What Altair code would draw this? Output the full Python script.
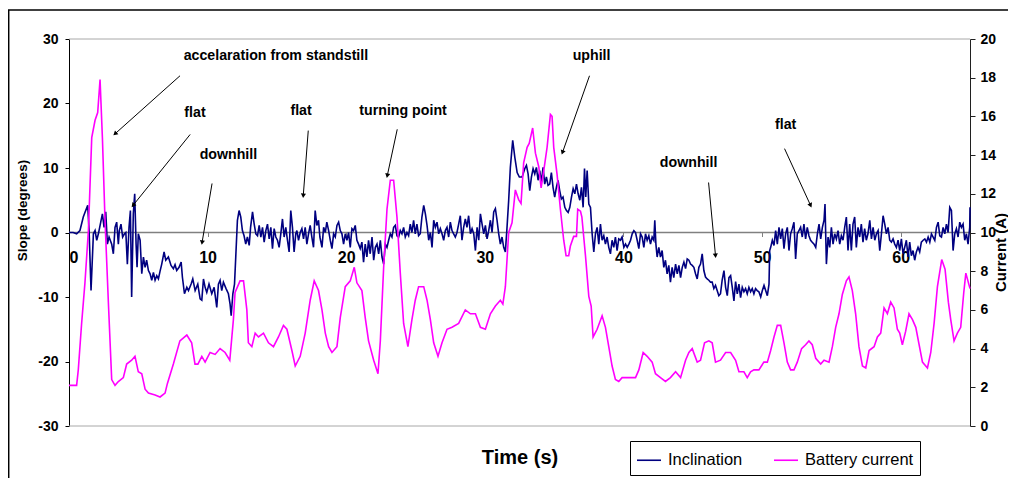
import math
import altair as alt
import pandas as pd

# ---------------- data ----------------
incl_t = [0.0, 0.3, 0.55, 0.79, 1.03, 1.15, 1.35, 1.45, 1.59, 1.76, 1.88, 2.0, 2.12, 2.29, 2.41, 2.53, 2.65, 2.77, 2.89, 3.08,
          3.2, 3.32, 3.44, 3.56, 3.63, 3.75, 3.87, 4.0, 4.1, 4.21, 4.33, 4.43, 4.52, 4.64, 4.74, 4.84, 4.91, 5.0, 5.13, 5.25,
          5.37, 5.49, 5.6, 5.73, 5.85, 5.97, 6.09, 6.21, 6.33, 6.45, 6.57, 6.69, 6.86, 6.98, 7.17, 7.36, 7.53, 7.65, 7.77, 7.94,
          8.09, 8.18, 8.33, 8.5, 8.62, 8.81, 8.93, 9.1, 9.29, 9.46, 9.58, 9.7, 9.82, 9.94, 10.1, 10.3, 10.47, 10.66, 10.78, 10.9,
          11.02, 11.14, 11.33, 11.5, 11.62, 11.7, 11.82, 11.94, 12.03, 12.15, 12.27, 12.39, 12.51, 12.63, 12.75, 12.87, 13.0, 13.1, 13.24, 13.36,
          13.48, 13.6, 13.72, 13.84, 13.96, 14.08, 14.2, 14.32, 14.44, 14.56, 14.68, 14.8, 14.92, 15.04, 15.16, 15.28, 15.4, 15.52, 15.64, 15.76,
          15.88, 16.0, 16.12, 16.24, 16.36, 16.44, 16.56, 16.68, 16.8, 16.92, 17.04, 17.16, 17.28, 17.4, 17.52, 17.64, 17.76, 17.88, 18.0, 18.1,
          18.25, 18.37, 18.49, 18.6, 18.73, 18.85, 18.97, 19.09, 19.21, 19.33, 19.45, 19.57, 19.69, 19.81, 19.93, 20.05, 20.17, 20.29, 20.41, 20.53,
          20.65, 20.77, 20.89, 21.01, 21.13, 21.25, 21.37, 21.49, 21.61, 21.73, 21.86, 21.98, 22.1, 22.22, 22.34, 22.46, 22.58, 22.7, 22.82, 22.94,
          23.06, 23.18, 23.3, 23.42, 23.54, 23.66, 23.78, 23.9, 24.02, 24.14, 24.26, 24.38, 24.5, 24.62, 24.74, 24.86, 24.98, 25.1, 25.22, 25.34,
          25.46, 25.59, 25.71, 25.83, 25.95, 26.07, 26.19, 26.31, 26.43, 26.55, 26.67, 26.79, 26.91, 27.03, 27.15, 27.27, 27.39, 27.51, 27.63, 27.75,
          27.87, 27.99, 28.11, 28.23, 28.35, 28.47, 28.59, 28.71, 28.83, 28.96, 29.08, 29.2, 29.32, 29.44, 29.56, 29.68, 29.8, 29.92, 30.04, 30.16,
          30.28, 30.4, 30.52, 30.64, 30.76, 30.88, 31.0, 31.12, 31.24, 31.36, 31.48, 31.6, 31.72, 31.84, 32.01, 32.16, 32.33, 32.49, 32.69, 32.88,
          33.0, 33.12, 33.24, 33.36, 33.48, 33.6, 33.72, 33.84, 33.96, 34.08, 34.2, 34.32, 34.44, 34.56, 34.68, 34.8, 34.92, 35.04, 35.16, 35.28,
          35.4, 35.52, 35.64, 35.77, 35.89, 36.01, 36.13, 36.25, 36.37, 36.49, 36.61, 36.73, 36.85, 36.97, 37.09, 37.19, 37.28, 37.38, 37.5, 37.62,
          37.74, 37.86, 37.98, 38.1, 38.22, 38.34, 38.46, 38.58, 38.7, 38.82, 38.94, 39.06, 39.18, 39.3, 39.42, 39.54, 39.66, 39.78, 39.9, 40.03,
          40.15, 40.27, 40.39, 40.51, 40.63, 40.75, 40.87, 40.99, 41.11, 41.23, 41.35, 41.47, 41.59, 41.71, 41.83, 41.95, 42.07, 42.19, 42.26, 42.34,
          42.43, 42.55, 42.67, 42.79, 42.91, 43.03, 43.15, 43.27, 43.39, 43.51, 43.63, 43.76, 43.88, 44.0, 44.12, 44.24, 44.36, 44.48, 44.6, 44.72,
          44.84, 44.96, 45.08, 45.2, 45.32, 45.44, 45.56, 45.68, 45.8, 45.92, 46.04, 46.16, 46.28, 46.4, 46.52, 46.64, 46.76, 46.88, 47.0, 47.12,
          47.25, 47.37, 47.49, 47.61, 47.73, 47.85, 47.97, 48.09, 48.21, 48.33, 48.45, 48.57, 48.69, 48.81, 48.93, 49.05, 49.17, 49.29, 49.41, 49.53,
          49.65, 49.77, 49.9, 50.02, 50.14, 50.26, 50.38, 50.5, 50.55, 50.62, 50.74, 50.86, 50.98, 51.1, 51.22, 51.34, 51.46, 51.58, 51.7, 51.82,
          51.94, 52.06, 52.18, 52.3, 52.42, 52.54, 52.66, 52.78, 52.9, 53.02, 53.14, 53.26, 53.38, 53.5, 53.62, 53.75, 53.87, 53.99, 54.11, 54.23,
          54.35, 54.47, 54.54, 54.64, 54.76, 54.88, 55.0, 55.12, 55.24, 55.36, 55.48, 55.6, 55.72, 55.84, 55.96, 56.08, 56.2, 56.32, 56.44, 56.56,
          56.68, 56.8, 56.92, 57.04, 57.16, 57.28, 57.4, 57.52, 57.64, 57.77, 57.89, 58.01, 58.13, 58.25, 58.37, 58.49, 58.61, 58.73, 58.85, 58.97,
          59.09, 59.21, 59.33, 59.45, 59.57, 59.69, 59.81, 59.93, 60.05, 60.17, 60.29, 60.41, 60.53, 60.65, 60.77, 60.89, 61.01, 61.13, 61.25, 61.37,
          61.49, 61.62, 61.74, 61.86, 61.98, 62.1, 62.22, 62.34, 62.46, 62.58, 62.7, 62.82, 62.94, 63.06, 63.18, 63.3, 63.42, 63.54, 63.66, 63.78,
          63.9, 64.02, 64.14, 64.26, 64.38, 64.5, 64.62, 64.74, 64.86, 64.98, 65.0]
incl_v = [0.0, 0.0, -0.2, 0.3, 2.4, 3.1, 4.2, 0.3, -9.0, -0.2, 0.3, -1.2, -0.2, 1.6, 2.9, 0.8, 3.2, -1.8, -0.7, -1.8,
          -3.3, 0.8, 1.6, -1.8, 0.3, 1.3, -0.7, -0.2, 0.0, -4.9, 0.8, 3.4, -10.0, 2.9, 6.0, -1.8, -5.4, -0.2, -1.2, -6.4,
          -3.8, -5.4, -4.3, -5.9, -6.4, -7.4, -6.2, -7.4, -6.7, -7.2, -6.0, -4.9, -3.0, -4.3, -3.8, -5.1, -5.6, -5.0, -5.9, -5.4,
          -4.6, -6.9, -9.5, -8.5, -9.0, -8.0, -7.2, -9.0, -8.0, -10.3, -10.5, -7.2, -8.5, -9.3, -8.0, -9.5, -8.5, -11.6, -8.0, -7.4,
          -9.0, -7.7, -8.7, -9.5, -11.1, -12.9, -9.5, -8.0, -3.8, 1.9, 3.4, 2.4, 0.3, -0.5, -1.8, -0.7, -2.0, 0.8, 3.2, 1.3,
          -0.2, -0.5, 1.1, -0.7, 0.8, -1.5, 0.3, 1.3, -1.0, 0.8, -2.5, 0.6, -0.7, -1.2, -2.3, -0.2, 2.1, -0.7, 0.8, -1.2,
          -3.0, 3.4, 0.8, -3.0, -0.2, 0.3, -1.2, 0.0, 0.6, -1.0, 0.8, -1.8, -0.2, 1.1, -0.7, -2.3, 3.4, 1.1, 1.9, -0.7,
          -2.3, 0.8, 0.0, 1.6, 0.3, -1.2, -2.5, -0.2, -0.7, 1.1, 1.6, 0.3, -0.2, -1.8, -0.2, -1.2, 0.0, -2.3, 0.6, 0.3,
          1.1, -1.2, -1.8, -2.5, -1.5, -4.6, -1.8, -3.8, -1.2, -3.3, -0.7, -4.3, -2.3, -1.8, -3.3, -1.2, -3.8, -4.9, -1.8, -2.3,
          -1.2, -0.2, -0.7, 0.8, 1.1, -0.5, -0.7, 0.3, -0.2, 0.8, -0.7, 0.0, -0.5, 1.3, 0.0, 1.9, -0.2, 1.3, -0.5, -0.2,
          2.4, 4.2, 2.9, 1.1, -1.2, 0.0, -2.3, 1.9, 0.8, 1.6, -0.2, 0.6, -0.2, -1.2, 0.3, 0.8, -0.7, 1.6, 0.3, -0.2,
          -0.7, 0.0, 1.3, 2.6, -1.2, 0.8, 2.1, 0.8, 2.6, -0.2, 0.6, -0.2, -2.8, 0.8, -1.2, 2.9, 1.3, -0.2, 1.1, -1.0,
          0.3, 1.9, 0.0, 3.2, 3.7, 1.9, -0.2, -1.8, -0.7, -2.3, -3.0, 0.8, 5.0, 10.1, 14.3, 11.7, 9.3, 8.6, 8.6, 9.9,
          10.4, 9.1, 6.5, 8.6, 9.9, 9.1, 10.1, 8.1, 9.6, 7.8, 10.1, 7.5, 8.6, 7.3, 7.5, 9.3, 7.0, 5.5, 7.0, 8.1,
          6.5, 5.2, 5.5, 3.9, 3.4, 3.1, 3.9, 5.5, 6.8, 6.0, 7.5, 6.0, 5.0, 7.0, 3.9, 9.9, 5.5, 9.6, 4.4, 3.9,
          -0.2, -3.0, -0.2, 0.8, -1.8, 1.3, -1.2, -0.5, -1.8, -0.7, -2.3, -3.3, -1.2, -2.3, -0.7, -2.8, -1.0, -1.2, -0.7, -2.3,
          -1.8, -2.3, -1.8, -1.2, -0.2, 0.3, 0.0, -1.2, -2.5, -0.2, -0.7, -2.3, -0.2, -1.2, -0.5, -1.8, -0.7, -1.2, 1.9, -1.8,
          -3.8, -2.3, -3.8, -2.8, -5.4, -4.3, -6.4, -5.1, -7.7, -5.4, -7.0, -4.9, -6.4, -5.1, -7.0, -5.4, -4.6, -5.6, -4.1, -4.3,
          -4.9, -5.1, -5.4, -6.4, -7.2, -5.4, -4.9, -3.3, -5.9, -6.9, -7.2, -7.4, -7.7, -7.7, -8.7, -8.2, -9.0, -9.8, -9.5, -7.4,
          -5.9, -8.5, -9.8, -7.0, -6.7, -8.5, -10.6, -7.6, -9.5, -8.0, -10.1, -8.5, -9.2, -8.7, -9.5, -8.5, -9.2, -8.7, -9.5, -8.7,
          -9.0, -9.2, -10.0, -9.0, -8.2, -9.0, -9.8, -8.0, -2.8, -2.3, -1.2, -2.0, 0.3, -1.8, 0.8, -1.0, 0.6, -2.5, -0.2, 0.8,
          -2.8, -0.2, 0.6, 1.6, -4.1, -0.2, 0.3, 0.8, -0.7, 1.3, -1.0, 0.8, -0.5, -1.2, -1.5, -1.8, -2.3, -0.2, 1.3, -1.0,
          0.8, 1.9, 4.4, -4.9, -0.7, -2.3, 0.8, -1.8, -0.2, -1.0, 0.3, -1.8, -0.5, -1.2, 0.8, 2.4, -2.8, 1.3, -2.8, 1.3,
          2.4, -2.3, 0.8, -0.7, 1.3, -1.5, 0.6, -1.2, -0.2, 1.9, -1.0, 0.8, -1.2, -0.2, 0.3, -2.8, -0.2, 2.6, 1.3, -0.2,
          0.8, -1.2, -1.5, -1.0, -1.8, -2.3, -1.2, -2.8, -1.0, -3.3, -2.3, -1.2, -3.8, -1.5, -3.6, -2.8, -4.3, -3.0, -2.3, -3.0,
          -1.5, -1.2, -1.0, -1.5, -0.7, -1.5, -0.2, -0.7, -1.2, 0.8, 1.6, -0.5, -0.7, 0.8, -0.2, 1.3, 0.0, 3.9, 3.4, -2.8,
          -0.2, 0.6, -0.7, 1.6, 0.8, 1.3, -1.2, -0.2, -1.8, 0.8, 3.9]

cur_t = [0.0, 0.55, 0.67, 0.91, 1.15, 1.4, 1.64, 1.88, 2.07, 2.24, 2.41, 2.6, 2.84, 3.08, 3.32, 3.56, 3.92, 4.16, 4.52, 4.76,
         5.0, 5.25, 5.49, 5.73, 6.21, 6.57, 6.93, 7.1, 7.53, 8.0, 8.5, 8.85, 9.09, 9.3, 9.58, 9.82, 10.18, 10.54, 10.9, 11.26,
         11.6, 11.86, 11.98, 12.34, 12.59, 12.83, 12.94, 13.19, 13.43, 13.67, 14.03, 14.39, 14.75, 15.11, 15.47, 15.72, 16.08, 16.32, 16.68, 17.04,
         17.4, 17.69, 18.0, 18.25, 18.49, 18.73, 18.97, 19.33, 19.57, 19.93, 20.29, 20.58, 20.77, 21.13, 21.37, 21.61, 21.98, 22.29, 22.46, 22.7,
         22.94, 23.18, 23.42, 23.66, 23.9, 24.14, 24.45, 24.74, 24.98, 25.22, 25.59, 25.83, 26.07, 26.31, 26.62, 26.91, 27.27, 27.63, 28.11, 28.59,
         28.96, 29.32, 29.68, 30.04, 30.4, 30.76, 31.12, 31.3, 31.48, 31.72, 31.96, 32.2, 32.44, 32.61, 32.8, 33.05, 33.2, 33.45, 33.65, 33.89,
         34.06, 34.25, 34.49, 34.73, 34.85, 34.97, 35.21, 35.45, 35.69, 35.86, 36.05, 36.17, 36.41, 36.61, 36.7, 36.9, 37.0, 37.26, 37.5, 37.67,
         37.81, 38.1, 38.46, 38.7, 38.94, 39.18, 39.42, 39.66, 39.9, 40.27, 40.63, 40.87, 41.11, 41.42, 41.71, 42.07, 42.31, 42.67, 43.03, 43.39,
         43.76, 44.12, 44.48, 44.72, 44.96, 45.32, 45.56, 45.85, 46.16, 46.4, 46.64, 47.0, 47.37, 47.73, 48.09, 48.33, 48.69, 48.93, 49.17, 49.41,
         49.77, 50.13, 50.38, 50.62, 50.86, 51.1, 51.34, 51.58, 51.82, 52.06, 52.3, 52.54, 52.85, 53.14, 53.38, 53.62, 53.87, 54.23, 54.47, 54.83,
         55.07, 55.31, 55.55, 55.79, 56.08, 56.27, 56.51, 56.75, 56.99, 57.24, 57.48, 57.72, 58.08, 58.32, 58.56, 58.8, 59.04, 59.28, 59.52, 59.76,
         59.93, 60.12, 60.36, 60.6, 60.85, 61.09, 61.33, 61.57, 61.93, 62.17, 62.41, 62.65, 62.96, 63.2, 63.44, 63.61, 63.85, 64.09, 64.33, 64.55,
         64.7, 64.85, 65.0]
cur_v = [2.1, 2.1, 2.9, 5.3, 7.4, 10.1, 14.9, 15.8, 16.2, 17.9, 14.9, 10.6, 6.4, 2.4, 2.1, 2.3, 2.5, 3.2, 3.4, 3.6,
         2.8, 2.7, 1.9, 1.7, 1.6, 1.5, 1.7, 2.2, 3.2, 4.4, 4.7, 4.3, 3.2, 3.2, 3.6, 3.3, 3.8, 3.7, 4.0, 3.8,
         3.4, 5.5, 6.9, 7.5, 7.5, 6.0, 4.3, 4.1, 4.8, 4.6, 4.8, 4.3, 4.1, 4.6, 5.2, 5.0, 3.9, 3.1, 3.6, 4.8,
         6.5, 7.5, 7.0, 6.0, 4.8, 4.1, 3.8, 4.1, 5.6, 7.2, 7.5, 8.2, 7.4, 7.0, 5.6, 4.4, 3.4, 2.7, 4.4, 8.2,
         11.2, 12.7, 12.7, 10.8, 7.9, 5.3, 4.1, 5.5, 6.5, 7.2, 7.2, 6.5, 5.5, 4.3, 3.6, 4.3, 5.0, 5.1, 5.3, 6.0,
         5.8, 5.8, 5.1, 5.0, 5.8, 6.2, 6.5, 6.3, 7.2, 10.0, 10.5, 12.2, 11.7, 11.5, 13.6, 14.4, 14.6, 15.4, 14.1, 13.4,
         12.3, 13.2, 14.4, 16.1, 16.0, 14.4, 13.0, 11.2, 9.6, 8.8, 8.8, 9.3, 9.8, 9.8, 11.2, 11.1, 10.8, 8.8, 6.7, 6.2,
         4.6, 5.0, 5.7, 5.1, 4.1, 3.1, 2.4, 2.3, 2.5, 2.5, 2.5, 2.5, 2.9, 3.8, 3.6, 3.3, 2.7, 2.5, 2.3, 2.5,
         2.8, 2.5, 3.4, 3.8, 4.0, 3.3, 3.4, 4.3, 4.4, 4.3, 3.3, 3.4, 3.8, 3.8, 3.4, 2.8, 2.8, 2.5, 2.8, 2.9,
         2.9, 3.3, 3.3, 3.9, 4.6, 5.2, 5.2, 4.3, 3.3, 2.9, 2.9, 3.3, 4.0, 4.2, 4.4, 4.2, 3.5, 3.2, 3.4, 3.3,
         4.1, 5.1, 5.8, 6.8, 7.5, 7.7, 7.0, 5.8, 4.1, 3.1, 3.0, 3.9, 4.1, 4.6, 4.8, 6.1, 5.8, 6.4, 6.1, 5.0,
         4.8, 4.2, 4.9, 5.8, 5.5, 5.1, 4.2, 3.3, 3.0, 3.8, 5.3, 7.2, 8.6, 8.1, 6.4, 5.5, 4.4, 4.8, 5.1, 6.9,
         7.9, 7.5, 7.1]

series_names = ["Inclination", "Battery current"]
series_colors = ["#000080", "#FF00FF"]

ann_labels = ["accelaration from standstill", "flat", "downhill", "flat", "turning point", "uphill", "downhill", "flat"]
ann_t = [14.93, 9.09, 11.5, 16.74, 24.1, 37.7, 44.7, 51.7]
ann_s = [27.44, 18.6, 11.94, 18.9, 18.9, 27.44, 10.7, 16.6]

arrow_t1 = [8.01, 8.74, 10.32, 17.26, 23.68, 37.55, 46.14, 51.62]
arrow_s1 = [24.3, 15.2, 7.6, 15.8, 16.0, 24.3, 7.75, 13.0]
arrow_t2 = [3.32, 4.62, 9.6, 16.9, 22.96, 35.6, 46.64, 53.5]
arrow_s2 = [15.3, 4.2, -1.55, 5.7, 8.8, 12.4, -3.6, 4.2]

time_ticks = [0, 10, 20, 30, 40, 50, 60]
slope_ticks = [-30, -20, -10, 0, 10, 20, 30]
current_ticks = [0, 2, 4, 6, 8, 10, 12, 14, 16, 18, 20]
frame_lines = [30, -30]

# ---------------- layout ----------------
W, H = 901, 387
PAD = {"left": 61, "top": 31, "right": 38, "bottom": 52}
T_DOM = [0, 65]
S_DOM = [-30, 30]
I_DOM = [0, 20]
FONT = "Liberation Sans, Arial, sans-serif"

incl_df = pd.DataFrame({"t": incl_t, "s": incl_v, "series": series_names[0]})
cur_df = pd.DataFrame({"t": cur_t, "c": cur_v, "series": series_names[1]})
ann_df = pd.DataFrame({"t": ann_t, "s": ann_s, "label": ann_labels})

kx = W / (T_DOM[1] - T_DOM[0])
ky = H / (S_DOM[1] - S_DOM[0])
angles = []
for a, b, c, d in zip(arrow_t1, arrow_s1, arrow_t2, arrow_s2):
    dx = (c - a) * kx
    dy = -(d - b) * ky
    angles.append(math.degrees(math.atan2(dx, -dy)) % 360)
arr_df = pd.DataFrame({"t": arrow_t1, "s": arrow_s1, "t2": arrow_t2, "s2": arrow_s2, "ang": angles})
frame_df = pd.DataFrame({"s": frame_lines})
zero_df = pd.DataFrame({"s": [0]})

x_scale = alt.Scale(domain=T_DOM, nice=False, zero=False)
s_scale = alt.Scale(domain=S_DOM, nice=False)
i_scale = alt.Scale(domain=I_DOM, nice=False)

x_axis = alt.Axis(
    values=time_ticks, offset=-H / 2, domain=False, grid=False,
    tickColor="#808080", tickSize=4, labelPadding=13,
    labelFont=FONT, labelFontSize=16, labelFontWeight="bold", labelColor="black",
    labelExpr="'' + datum.value",
    title="Time (s)", titleFont=FONT, titleFontSize=20, titleFontWeight="bold",
    titleColor="black", titleY=224.5, titleBaseline="middle",
)
s_axis = alt.Axis(
    values=slope_ticks, orient="left", grid=False, domainColor="black", tickColor="black",
    tickSize=4, labelPadding=7, labelFont=FONT, labelFontSize=14, labelFontWeight="bold",
    labelColor="black", labelExpr="'' + datum.value",
    title="Slope (degrees)", titleFont=FONT, titleFontSize=13.5, titleFontWeight="bold",
    titleColor="black", titleAngle=270, titleX=-47, titleY=171, titleBaseline="middle",
    titleAlign="center",
)
i_axis = alt.Axis(
    values=current_ticks, orient="right", grid=False, domainColor="#202020", tickColor="#202020",
    tickSize=5, labelPadding=5, labelFont=FONT, labelFontSize=14, labelFontWeight="bold",
    labelColor="black", labelExpr="'' + datum.value",
    title="Current (A)", titleFont=FONT, titleFontSize=15, titleFontWeight="bold",
    titleColor="black", titleAngle=270, titleX=30, titleY=213, titleBaseline="middle",
    titleAlign="center",
)

color_enc = alt.Color(
    "series:N",
    scale=alt.Scale(domain=series_names, range=series_colors),
    legend=alt.Legend(
        title=None, orient="none", legendX=561, legendY=402, direction="horizontal",
        symbolType="stroke", symbolSize=576, symbolStrokeWidth=1.6,
        labelFont=FONT, labelFontSize=16.5, labelColor="black", labelOffset=6,
        columnPadding=27, padding=6, strokeColor="black", fillColor="white",
        cornerRadius=0,
    ),
)

X = alt.X("t:Q", scale=x_scale, axis=x_axis)

frame = alt.Chart(frame_df).mark_rule(color="#A8A8A8", strokeWidth=1).encode(
    y=alt.Y("s:Q", scale=s_scale, axis=s_axis)
)
zero = alt.Chart(zero_df).mark_rule(color="#808080", strokeWidth=1.3).encode(
    y=alt.Y("s:Q", scale=s_scale, axis=s_axis)
)
incl = alt.Chart(incl_df).mark_line(strokeWidth=1.6).encode(
    x=X, y=alt.Y("s:Q", scale=s_scale, axis=s_axis), color=color_enc
)
texts = alt.Chart(ann_df).mark_text(
    font=FONT, fontSize=14.2, fontWeight="bold", color="black", align="center", baseline="middle"
).encode(x=X, y=alt.Y("s:Q", scale=s_scale, axis=s_axis), text="label:N")
arrows = alt.Chart(arr_df).mark_rule(color="black", strokeWidth=1).encode(
    x=X, y=alt.Y("s:Q", scale=s_scale, axis=s_axis), x2="t2:Q", y2="s2:Q"
)
heads = alt.Chart(arr_df).mark_point(
    shape="triangle-up", filled=True, size=26, color="black", opacity=1, strokeWidth=0
).encode(
    x=alt.X("t2:Q", scale=x_scale, axis=x_axis),
    y=alt.Y("s2:Q", scale=s_scale, axis=s_axis),
    angle=alt.Angle("ang:Q", scale=None),
)

svg_w = PAD["left"] + W + PAD["right"]
svg_h = PAD["top"] + H + PAD["bottom"]
border_left = alt.Chart().mark_rule(color="black", strokeWidth=1.5).encode(
    x=alt.value(-PAD["left"] + 0.7), y=alt.value(-29), y2=alt.value(svg_h - PAD["top"])
)
border_top = alt.Chart().mark_rule(color="black", strokeWidth=1.5).encode(
    x=alt.value(-PAD["left"]), x2=alt.value(svg_w - PAD["left"]), y=alt.value(-29)
)

left_group = alt.layer(frame, zero, incl, arrows, heads, texts, border_left, border_top)

cur = alt.Chart(cur_df).mark_line(strokeWidth=1.6).encode(
    x=X, y=alt.Y("c:Q", scale=i_scale, axis=i_axis), color=color_enc
)

chart = alt.layer(left_group, cur).resolve_scale(y="independent").properties(
    width=W, height=H,
    autosize=alt.AutoSizeParams(type="none"),
    padding=PAD,
    background="white",
).configure_view(stroke=None)

chart.save("out.html", embed_options={"renderer": "svg", "actions": False})
